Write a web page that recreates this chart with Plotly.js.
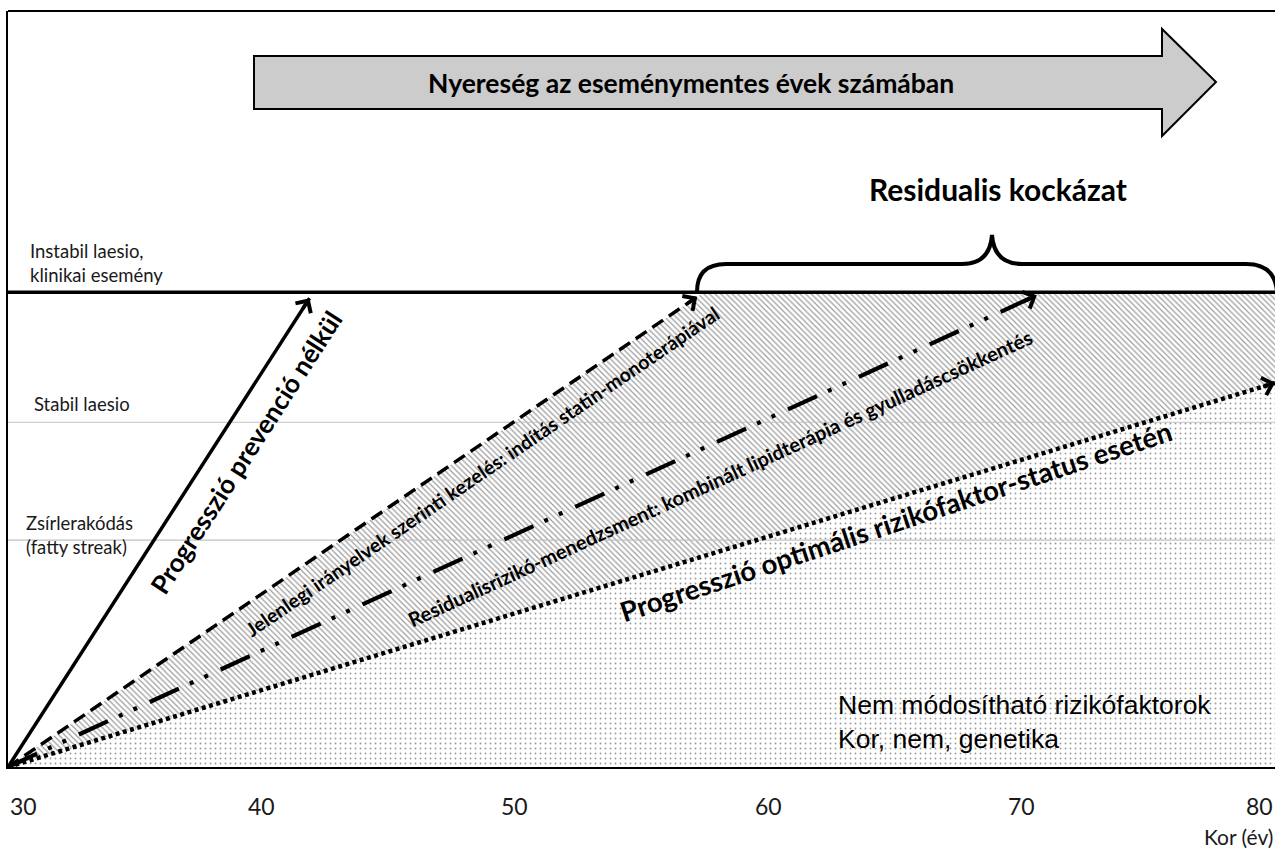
<!DOCTYPE html>
<html><head><meta charset="utf-8">
<script src="https://cdn.plot.ly/plotly-3.0.1.min.js"></script>
<style>html,body{margin:0;padding:0;background:#fff}</style>
</head><body>
<div id="chart" style="width:1275px;height:850px"></div>
<script>
// ---------------- data ----------------
const ageTicks = [30, 40, 50, 60, 70, 80];
const ageTickLabels = ['30', '40', '50', '60', '70', '80'];
const axisTitle = 'Kor (év)';

const levelNames = ['Zsírlerakódás<br>(fatty streak)', 'Stabil laesio', 'Instabil laesio,<br>klinikai esemény'];
const levelValues = [30, 45.6, 62.8];

const pathNames = [
  'Progresszió prevenció nélkül',
  'Jelenlegi irányelvek szerinti kezelés: indítás statin-monoterápiával',
  'Residualisrizikó-menedzsment: kombinált lipidterápia és gyulladáscsökkentés',
  'Progresszió optimális rizikófaktor-status esetén'
];
const pathStartAge = [30, 30, 30, 30];
const pathStartValue = [0, 0, 0, 0];
const pathEndAge = [41.9, 57.2, 70.6, 80];
const pathEndValue = [62.0, 62.2, 62.4, 50.8];

const gainText = 'Nyereség az eseménymentes évek számában';
const residualText = 'Residualis kockázat';
const fixedText = 'Nem módosítható rizikófaktorok<br>Kor, nem, genetika';

// ---------------- layout helpers ----------------
const W = 1275, H = 850;
const M = {l: 8, r: 0, t: 11, b: 83};
const xRange = [30, 80], yRange = [0, 100];
const plotW = W - M.l - M.r, plotH = H - M.t - M.b;
const pxX = plotW / (xRange[1] - xRange[0]);
const pxY = plotH / (yRange[1] - yRange[0]);
const X = px => xRange[0] + (px - M.l) / pxX;
const Y = py => yRange[0] + (H - M.b - py) / pxY;
const P = (px, py) => X(px).toFixed(4) + ',' + Y(py).toFixed(4);

const CAL = 'Lato, "Open Sans", sans-serif';

// ---------------- traces ----------------
const traces = [];
const unstable = levelValues[2];
const opt = 3, guide = 1;

// dotted region below the optimal progression
traces.push({
  x: [pathStartAge[opt], pathEndAge[opt], pathEndAge[opt], pathStartAge[opt]],
  y: [pathStartValue[opt], pathEndValue[opt], yRange[0], pathStartValue[opt]],
  mode: 'lines', fill: 'toself', line: {width: 0, color: 'rgba(0,0,0,0)'},
  fillcolor: 'rgba(0,0,0,0)',
  fillpattern: {shape: '.', fgcolor: '#9a9a9a', bgcolor: 'rgba(0,0,0,0)', size: 5, solidity: 0.11},
  hoverinfo: 'skip', showlegend: false
});

// hatched region between guideline path and optimal path (residual risk)
const gSlope = (pathEndValue[guide] - pathStartValue[guide]) / (pathEndAge[guide] - pathStartAge[guide]);
const gMeet = pathStartAge[guide] + (unstable - pathStartValue[guide]) / gSlope;
traces.push({
  x: [pathStartAge[guide], gMeet, xRange[1], pathEndAge[opt], pathStartAge[opt]],
  y: [pathStartValue[guide], unstable, unstable, pathEndValue[opt], pathStartValue[opt]],
  mode: 'lines', fill: 'toself', line: {width: 0, color: 'rgba(0,0,0,0)'},
  fillcolor: 'rgba(0,0,0,0)',
  fillpattern: {shape: '\\', fgcolor: '#9c9c9c', bgcolor: 'rgba(0,0,0,0)', size: 4, solidity: 0.3},
  hoverinfo: 'skip', showlegend: false
});

// level lines
levelValues.forEach((v, i) => {
  const isTop = i === levelValues.length - 1;
  traces.push({
    x: [xRange[0], xRange[1]], y: [v, v], mode: 'lines',
    line: {color: isTop ? '#000' : '#c2c2c2', width: isTop ? 3.5 : 1.2},
    hoverinfo: 'skip', showlegend: false, name: levelNames[i]
  });
});

// progression paths
const widths = [3.5, 3.5, 4.2, 4.5];
const dashes = ['solid', '13px,7px', '32px,12px,4px,12px,4px,14px', '4px,3.5px'];
pathNames.forEach((n, i) => {
  traces.push({
    x: [pathStartAge[i], pathEndAge[i]], y: [pathStartValue[i], pathEndValue[i]],
    mode: 'lines', name: n, line: {color: '#000', width: widths[i], dash: dashes[i]},
    hoverinfo: 'skip', showlegend: false
  });
});

// ---------------- annotations ----------------
const ann = [];
// arrowheads
pathNames.forEach((n, i) => {
  const dxp = (pathEndAge[i] - pathStartAge[i]) * pxX;
  const dyp = (pathEndValue[i] - pathStartValue[i]) * pxY;
  const len = Math.hypot(dxp, dyp);
  const back = 14;
  ann.push({
    x: pathEndAge[i], y: pathEndValue[i], xref: 'x', yref: 'y',
    ax: pathEndAge[i] - dxp / len * back / pxX, ay: pathEndValue[i] - dyp / len * back / pxY,
    axref: 'x', ayref: 'y', showarrow: true, arrowhead: 4, arrowsize: 1,
    arrowwidth: 3.5, arrowcolor: '#000', text: ''
  });
});
// path labels (rotated along their lines)
const labelPos = [[246, 452, 26, 0], [482, 471, 19.5, 0], [720, 478, 20, 0], [895, 521, 27.5, 1.5]];
pathNames.forEach((n, i) => {
  const dxp = (pathEndAge[i] - pathStartAge[i]) * pxX;
  const dyp = (pathEndValue[i] - pathStartValue[i]) * pxY;
  const ang = -Math.atan2(dyp, dxp) * 180 / Math.PI - labelPos[i][3];
  ann.push({
    x: X(labelPos[i][0]), y: Y(labelPos[i][1]), xref: 'x', yref: 'y',
    text: '<b>' + n + '</b>', showarrow: false, textangle: ang,
    font: {family: CAL, size: labelPos[i][2], color: '#000'}
  });
});
// level labels
ann.push({x: X(24), y: Y(535), xref: 'x', yref: 'y', xanchor: 'left', yanchor: 'middle', align: 'left',
  text: levelNames[0], showarrow: false, font: {family: CAL, size: 18.5, color: '#1a1a1a'}});
ann.push({x: X(32), y: Y(404), xref: 'x', yref: 'y', xanchor: 'left', yanchor: 'middle', align: 'left',
  text: levelNames[1], showarrow: false, font: {family: CAL, size: 18.5, color: '#1a1a1a'}});
ann.push({x: X(28), y: Y(263), xref: 'x', yref: 'y', xanchor: 'left', yanchor: 'middle', align: 'left',
  text: levelNames[2], showarrow: false, font: {family: CAL, size: 18.5, color: '#1a1a1a'}});
// headline texts
ann.push({x: X(691), y: Y(83), xref: 'x', yref: 'y', text: '<b>' + gainText + '</b>', showarrow: false,
  font: {family: CAL, size: 26.5, color: '#000'}});
ann.push({x: X(998), y: Y(189), xref: 'x', yref: 'y', text: '<b>' + residualText + '</b>', showarrow: false,
  font: {family: CAL, size: 30, color: '#000'}});
ann.push({x: X(836), y: Y(722), xref: 'x', yref: 'y', xanchor: 'left', yanchor: 'middle', align: 'left',
  text: fixedText, showarrow: false,
  font: {family: '"Liberation Sans Narrow", "Liberation Sans", Arial, sans-serif', size: 26.5, color: '#000'}});
// x tick labels
ageTicks.forEach((a, i) => {
  ann.push({x: a, y: yRange[0], xref: 'x', yref: 'y', yshift: -39, yanchor: 'middle',
    xanchor: i === 0 ? 'left' : (i === ageTicks.length - 1 ? 'right' : 'center'),
    text: ageTickLabels[i], showarrow: false, font: {family: CAL, size: 23, color: '#1a1a1a'}});
});
ann.push({x: xRange[1], y: yRange[0], xref: 'x', yref: 'y', yshift: -69, yanchor: 'middle', xanchor: 'right',
  text: axisTitle, showarrow: false, font: {family: CAL, size: 21, color: '#1a1a1a'}});

// ---------------- shapes ----------------
const shapes = [
  {type: 'line', xref: 'paper', yref: 'paper', x0: 0, x1: 1, y0: 1, y1: 1, line: {color: '#000', width: 2}},
  {type: 'path', xref: 'x', yref: 'y', layer: 'above',
   path: `M ${P(254,56)} L ${P(1162,56)} L ${P(1162,29)} L ${P(1216,82)} L ${P(1162,136)} L ${P(1162,109)} L ${P(254,109)} Z`,
   fillcolor: '#cccccc', line: {color: '#000', width: 2}},
  {type: 'path', xref: 'x', yref: 'y', layer: 'above',
   path: `M ${P(697,292)} Q ${P(697,264)} ${P(726,264)} L ${P(962,264)} Q ${P(990,264)} ${P(992,235)} Q ${P(994,264)} ${P(1022,264)} L ${P(1246,264)} Q ${P(1275,264)} ${P(1277,292)}`,
   line: {color: '#000', width: 4}}
];

const layout = {
  width: W, height: H, margin: M,
  paper_bgcolor: '#fff', plot_bgcolor: '#fff',
  showlegend: false,
  xaxis: {range: xRange, showgrid: false, zeroline: false, showline: true, linecolor: '#000', linewidth: 2,
          showticklabels: false, ticks: '', tickvals: ageTicks, fixedrange: true},
  yaxis: {range: yRange, showgrid: false, zeroline: false, showline: true, linecolor: '#000', linewidth: 2,
          showticklabels: false, ticks: '', fixedrange: true},
  annotations: ann, shapes: shapes
};

Plotly.newPlot('chart', traces, layout, {displayModeBar: false, staticPlot: true});
</script>
</body></html>
